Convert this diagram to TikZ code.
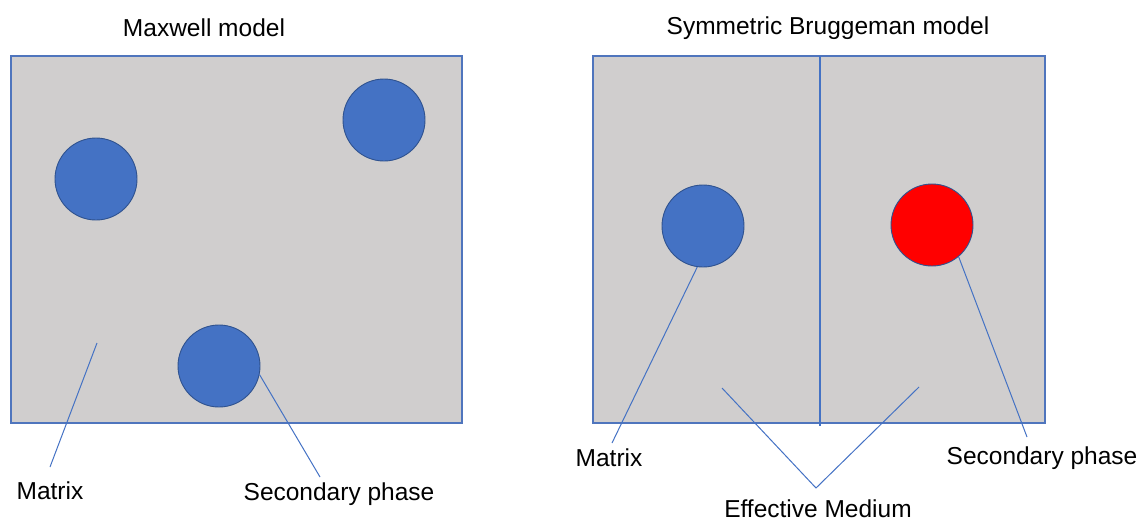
\documentclass[tikz,border=0pt]{standalone}
\usepackage{fontspec}
\setmainfont{Liberation Sans}
\definecolor{panelfill}{HTML}{D0CECE}
\definecolor{panelline}{HTML}{4F75BD}
\definecolor{phaseblue}{HTML}{4472C4}
\definecolor{phaseedge}{HTML}{2F528F}
\definecolor{phasered}{HTML}{FF0000}
\begin{document}
\begin{tikzpicture}[x=1pt,y=-1pt,
  panel/.style={draw=panelline,fill=panelfill,line width=1.3pt},
  inclusion/.style={circle,draw=phaseedge,line width=0.9pt,minimum size=82pt,inner sep=0pt},
  leader/.style={draw=phaseblue,line width=1pt},
  label/.style={font=\fontsize{24.5}{28}\selectfont,inner sep=0pt,text=black}]
\useasboundingbox (0,0) rectangle (1143,522);

% Maxwell model
\node[label] (t1) at (204,28) {Maxwell model};
\draw[panel] (11,56) rectangle (462,423);
\node[inclusion,fill=phaseblue] (c1) at (96,179) {};
\node[inclusion,fill=phaseblue] (c2) at (384,120) {};
\node[inclusion,fill=phaseblue] (c3) at (219,366) {};
\coordinate (m1) at (97,343);
\coordinate (m1end) at (50,467);
\coordinate (s1end) at (320,477);
\node[label] (matrix1) at (50,491) {Matrix};
\node[label] (sec1) at (339,494) {Secondary phase};
\draw[leader] (m1) -- (m1end);
\draw[leader] (c3.-12) -- (s1end);

% Symmetric Bruggeman model
\node[label] (t2) at (828,28) {Symmetric Bruggeman model};
\draw[panel] (593,56) rectangle (1045,423);
\coordinate (divtop) at (820,56);
\coordinate (divbot) at (820,426);
\draw[draw=phaseblue,line width=2pt] (divtop) -- (divbot);
\node[inclusion,fill=phaseblue] (c4) at (703,226) {};
\node[inclusion,fill=phasered] (c5) at (932,225) {};
\coordinate (m2end) at (612,443);
\coordinate (s2end) at (1027,437);
\coordinate (e1) at (722,388);
\coordinate (e2) at (919,387);
\coordinate (ejoin) at (816,488);
\node[label] (matrix2) at (609,458) {Matrix};
\node[label] (sec2) at (1042,458) {Secondary phase};
\node[label] (eff) at (818,509) {Effective Medium};
\draw[leader] (c4.-98) -- (m2end);
\draw[leader] (c5.-50) -- (s2end);
\draw[leader] (e1) -- (ejoin) -- (e2);
\end{tikzpicture}
\end{document}
